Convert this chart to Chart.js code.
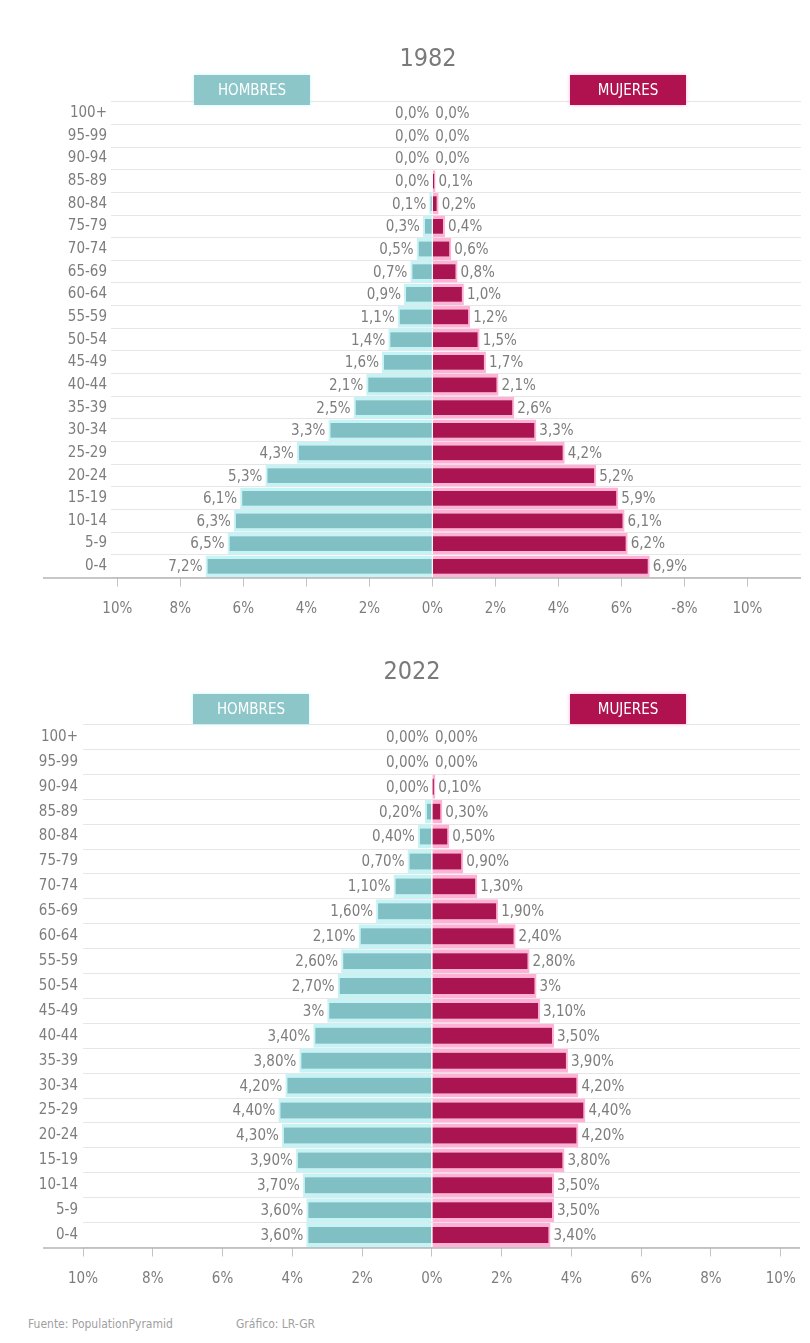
<!DOCTYPE html>
<html>
<head>
<meta charset="utf-8">
<script src="https://cdn.jsdelivr.net/npm/chart.js@4"></script>
<style>
  body { margin: 0; background: #fff; }
  #wrap { position: relative; width: 810px; height: 1343px; font-family: "Liberation Sans Narrow", "DejaVu Sans Condensed", "Open Sans", sans-serif; }
  .panel { position: absolute; left: 0; width: 810px; }
  .year { position: absolute; color: #7a7a7a; font-size: 25px; transform: translateX(-50%); }
  .tag { position: absolute; width: 116px; height: 30px; line-height: 30px; text-align: center; color: #fff; font-size: 15px; letter-spacing: 0px; }
  .hom { background: #8cc6c9; box-shadow: 0 0 4px #c9f6f8; }
  .muj { background: #b0124f; box-shadow: 0 0 4px #ffb0d5; }
  .foot { position: absolute; top: 1317px; font-size: 12px; color: #a0a0a0; }
</style>
</head>
<body>
<div id="wrap">
  <div class="panel" style="top:0;height:640px"><canvas id="c1" width="810" height="640"></canvas></div>
  <div class="panel" style="top:640px;height:660px"><canvas id="c2" width="810" height="660"></canvas></div>

  <div class="year" style="left:428px;top:43px">1982</div>
  <div class="tag hom" style="left:194px;top:75px">HOMBRES</div>
  <div class="tag muj" style="left:570px;top:75px">MUJERES</div>

  <div class="year" style="left:412px;top:656px">2022</div>
  <div class="tag hom" style="left:193px;top:694px">HOMBRES</div>
  <div class="tag muj" style="left:570px;top:694px">MUJERES</div>

  <div class="foot" style="left:28px">Fuente: PopulationPyramid</div>
  <div class="foot" style="left:236px">Gráfico: LR-GR</div>
</div>

<script>
const ageGroups = ['100+', '95-99', '90-94', '85-89', '80-84', '75-79', '70-74', '65-69', '60-64', '55-59',
  '50-54', '45-49', '40-44', '35-39', '30-34', '25-29', '20-24', '15-19', '10-14', '5-9', '0-4'];

const men1982 = [0.0, 0.0, 0.0, 0.0, 0.1, 0.3, 0.5, 0.7, 0.9, 1.1, 1.4, 1.6, 2.1, 2.5, 3.3, 4.3, 5.3, 6.1, 6.3, 6.5, 7.2];
const women1982 = [0.0, 0.0, 0.0, 0.1, 0.2, 0.4, 0.6, 0.8, 1.0, 1.2, 1.5, 1.7, 2.1, 2.6, 3.3, 4.2, 5.2, 5.9, 6.1, 6.2, 6.9];

const men2022 = [0.0, 0.0, 0.0, 0.2, 0.4, 0.7, 1.1, 1.6, 2.1, 2.6, 2.7, 3, 3.4, 3.8, 4.2, 4.4, 4.3, 3.9, 3.7, 3.6, 3.6];
const women2022 = [0.0, 0.0, 0.1, 0.3, 0.5, 0.9, 1.3, 1.9, 2.4, 2.8, 3, 3.1, 3.5, 3.9, 4.2, 4.4, 4.2, 3.8, 3.5, 3.5, 3.4];

const tickValues = [-10, -8, -6, -4, -2, 0, 2, 4, 6, 8, 10];
const tickLabels1982 = ['10%', '8%', '6%', '4%', '2%', '0%', '2%', '4%', '6%', '-8%', '10%'];
const tickLabels2022 = ['10%', '8%', '6%', '4%', '2%', '0%', '2%', '4%', '6%', '8%', '10%'];

const FONT = '"Liberation Sans Narrow", "DejaVu Sans Condensed", "Open Sans", sans-serif';
const GREY = '#7d7d7d';

const fmt1982 = v => v.toFixed(1).replace('.', ',') + '%';
const fmt2022 = v => (v !== 0 && Number.isInteger(v)) ? v + '%' : v.toFixed(2).replace('.', ',') + '%';

// value labels at the end of each bar
const valueLabels = {
  id: 'valueLabels',
  afterDatasetsDraw(chart, args, opts) {
    const ctx = chart.ctx;
    ctx.save();
    ctx.font = opts.size + 'px ' + FONT;
    ctx.fillStyle = GREY;
    ctx.textBaseline = 'middle';
    chart.data.datasets.forEach((ds, di) => {
      chart.getDatasetMeta(di).data.forEach((bar, i) => {
        const v = Math.abs(ds.data[i]);
        const male = di === 0;
        ctx.textAlign = male ? 'right' : 'left';
        const x = male ? Math.min(bar.x, bar.base) - 3 : Math.max(bar.x, bar.base) + 3;
        ctx.fillText(opts.fmt(v), x, bar.y + 1);
      });
    });
    ctx.restore();
  }
};

// axis line runs further left than the plot
const baseLine = {
  id: 'baseLine',
  afterDraw(chart) {
    const a = chart.chartArea, ctx = chart.ctx;
    ctx.save();
    ctx.strokeStyle = '#b5b5b5';
    ctx.lineWidth = 1.5;
    ctx.beginPath();
    ctx.moveTo(43, a.bottom + 0.5);
    ctx.lineTo(a.right, a.bottom + 0.5);
    ctx.stroke();
    ctx.restore();
  }
};

function makeChart(id, men, women, cfg) {
  return new Chart(document.getElementById(id), {
    type: 'bar',
    data: {
      labels: ageGroups,
      datasets: [
        {
          label: 'Hombres',
          data: men.map(v => -v),
          backgroundColor: '#80c0c4',
          borderColor: '#c6f4f6',
          borderWidth: { top: cfg.halo, bottom: cfg.halo, left: 2, right: 0 },
          borderSkipped: false,
          barPercentage: 1,
          categoryPercentage: 0.96
        },
        {
          label: 'Mujeres',
          data: women,
          backgroundColor: '#aa1450',
          borderColor: '#ffb2d6',
          borderWidth: { top: cfg.halo, bottom: cfg.halo, left: 0, right: 2 },
          borderSkipped: false,
          barPercentage: 1,
          categoryPercentage: 0.96
        }
      ]
    },
    options: {
      indexAxis: 'y',
      responsive: false,
      animation: false,
      layout: { padding: { top: cfg.top, right: 9, bottom: cfg.bottom, left: 0 } },
      plugins: {
        legend: { display: false },
        tooltip: { enabled: false },
        valueLabels: { fmt: cfg.fmt, size: cfg.labelSize }
      },
      scales: {
        x: {
          stacked: true,
          min: cfg.min,
          max: cfg.max,
          afterBuildTicks: s => { s.ticks = tickValues.map(v => ({ value: v })); },
          afterFit: s => { s.height = 45; },
          grid: { drawOnChartArea: false, drawTicks: true, tickLength: 9, color: '#c4c4c4' },
          border: { display: false },
          ticks: {
            padding: 14,
            color: GREY,
            font: { family: FONT, size: 15 },
            callback: (v, i) => cfg.ticks[i]
          }
        },
        y: {
          stacked: true,
          afterFit: s => { s.width = cfg.left; },
          grid: { color: '#e6e6e6', lineWidth: 1, drawTicks: false },
          border: { display: false },
          ticks: {
            padding: cfg.labelPad,
            color: GREY,
            font: { family: FONT, size: 15 }
          }
        }
      }
    },
    plugins: [valueLabels, baseLine]
  });
}

makeChart('c1', men1982, women1982, {
  min: -10.2, max: 11.7, left: 111, top: 101.7, bottom: 17.4,
  ticks: tickLabels1982, fmt: fmt1982, labelSize: 15, labelPad: 4, halo: 3.5
});

makeChart('c2', men2022, women2022, {
  min: -10, max: 10.55, left: 83, top: 84.5, bottom: 7.5,
  ticks: tickLabels2022, fmt: fmt2022, labelSize: 15, labelPad: 5, halo: 4
});
</script>
</body>
</html>
